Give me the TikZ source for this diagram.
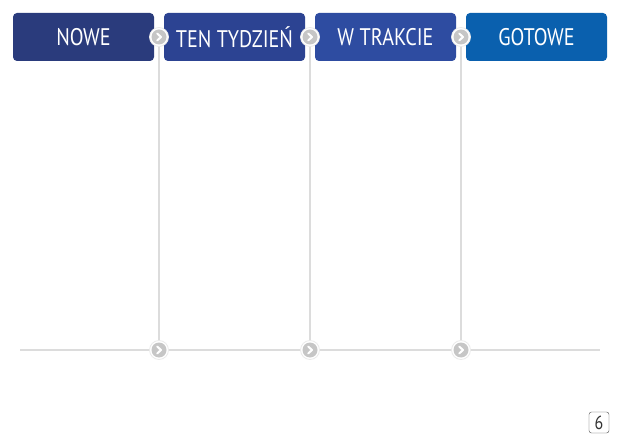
\documentclass[tikz,border=0pt]{standalone}
\usepackage{fontspec}
\setmainfont{PT Sans}[FakeStretch=0.84]
\definecolor{colnowe}{HTML}{2A3B7C}
\definecolor{colten}{HTML}{2C4392}
\definecolor{coltrak}{HTML}{2E4CA1}
\definecolor{colgot}{HTML}{0A60AE}
\definecolor{lane}{HTML}{DCDCDC}
\definecolor{knob}{HTML}{C6C6C6}
\tikzset{
  colbox/.style={rounded corners=4pt, minimum width=141pt, minimum height=48pt,
    inner sep=0pt, text=white, font=\fontsize{24}{26}\selectfont},
  lane/.style={draw=lane, line width=1.6pt},
  knobring/.style={circle, fill=white, draw=lane!60, line width=0.8pt,
    minimum size=19pt, inner sep=0pt},
}
\begin{document}
\begin{tikzpicture}[x=1pt,y=-1pt]
\useasboundingbox[fill=white] (0,0) rectangle (620,443);

% column headers
\node[colbox, fill=colnowe] (nowe) at (83.5,37) {NOWE};
\node[colbox, fill=colten] (ten) at (234.5,37) {TEN TYDZIEŃ};
\node[colbox, fill=coltrak] (trak) at (385.5,37) {W TRAKCIE};
\node[colbox, fill=colgot] (got) at (536.5,37) {GOTOWE};

% bottom line
\coordinate (left) at (20,350);
\coordinate (right) at (600,350);
\draw[lane] (left) -- (right);

\foreach \n/\x in {a/159,b/310,c/461} {
  \node[knobring] (top\n) at (\x,37) {};
  \node[knobring] (bot\n) at (\x,350) {};
  \draw[lane] (top\n) -- (bot\n);
  \foreach \p in {top\n,bot\n} {
    \fill[knob] (\p) circle (7.5pt);
    \draw[white, line width=2pt, line cap=round, line join=round]
      ([xshift=-1.8pt,yshift=3.5pt]\p.center) -- ([xshift=2pt]\p.center)
      -- ([xshift=-1.8pt,yshift=-3.5pt]\p.center);
  }
}

% page number
\node[draw=black!70, rounded corners=2.5pt, minimum width=20pt, minimum height=21pt,
  inner sep=0pt, font=\fontsize{19}{20}\selectfont, text=black!80] (page) at (599,422.5) {6};
\end{tikzpicture}
\end{document}
